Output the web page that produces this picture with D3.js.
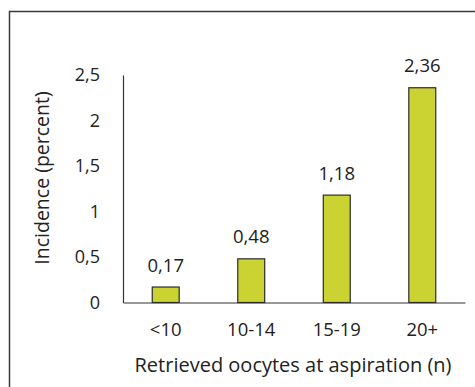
<!DOCTYPE html>
<html>
<head>
<meta charset="utf-8">
<script src="https://cdn.jsdelivr.net/npm/d3@7"></script>
<style>
  html, body { margin: 0; padding: 0; background: #fff; }
  svg { display: block; }
  text { font-family: "Open Sans", Lato, sans-serif; fill: #222; }
</style>
</head>
<body>
<svg id="chart" width="475" height="387"></svg>
<script>
// Incidence by number of oocytes retrieved at aspiration
const categories = ["<10", "10-14", "15-19", "20+"];
const incidence = [0.17, 0.48, 1.18, 2.36];
const yTicks = [0, 0.5, 1, 1.5, 2, 2.5];

const svg = d3.select("#chart");
const plot = { left: 123, right: 465, top: 75, bottom: 302.5 };
const fmt = v => String(v).replace(".", ",");
const FONT = "'Open Sans', Lato, sans-serif";

// outer frame (runs off the right and bottom edges)
svg.append("rect")
  .attr("x", 9.5).attr("y", 11.5)
  .attr("width", 480).attr("height", 400)
  .attr("fill", "none").attr("stroke", "#3a3a3a").attr("stroke-width", 1.5);

const x = d3.scaleBand().domain(categories)
  .range([plot.left, plot.right]).paddingInner(0.685).paddingOuter(0.342);
const y = d3.scaleLinear().domain([0, 2.5]).range([plot.bottom, plot.top]);

// y axis: line plus tick labels, no tick marks
const yAxis = svg.append("g").attr("transform", `translate(${plot.left},0)`)
  .call(d3.axisLeft(y).tickValues(yTicks).tickSize(0).tickPadding(23).tickFormat(fmt));
yAxis.select(".domain").attr("stroke", "#333").attr("stroke-width", 1.2);
yAxis.selectAll("text").style("font-size", "18px").style("font-family", FONT).attr("fill", "#222");

// bars
svg.append("g").selectAll("rect").data(incidence).join("rect")
  .attr("x", (d, i) => x(categories[i]))
  .attr("y", d => y(d))
  .attr("width", x.bandwidth())
  .attr("height", d => y(0) - y(d))
  .attr("fill", "#cad332")
  .attr("stroke", "#2b2b2b")
  .attr("stroke-width", 1.2);

// value labels
svg.append("g").selectAll("text").data(incidence).join("text")
  .attr("x", (d, i) => x(categories[i]) + x.bandwidth() / 2)
  .attr("y", d => y(d) - 15.5)
  .attr("text-anchor", "middle")
  .style("font-size", "18.5px")
  .text(fmt);

// x axis baseline and category labels
const xAxis = svg.append("g").attr("transform", `translate(0,${plot.bottom})`)
  .call(d3.axisBottom(x).tickSize(0).tickPadding(20));
xAxis.select(".domain").attr("stroke", "#333").attr("stroke-width", 1.2);
xAxis.selectAll("text").style("font-size", "18.5px").style("font-family", FONT).attr("fill", "#222");

// axis titles
svg.append("text")
  .attr("x", 293)
  .attr("y", 371.5)
  .attr("text-anchor", "middle")
  .style("font-size", "20px")
  .text("Retrieved oocytes at aspiration (n)");

svg.append("text")
  .attr("transform", "translate(49,178) rotate(-90)")
  .attr("text-anchor", "middle")
  .style("font-size", "19.5px")
  .text("Incidence (percent)");
</script>
</body>
</html>
